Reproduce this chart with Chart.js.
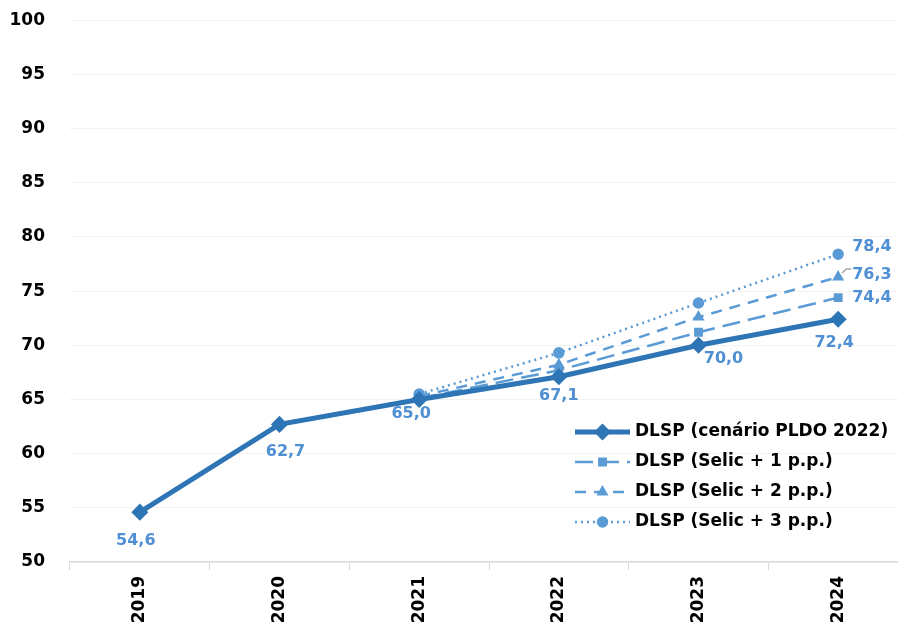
<!DOCTYPE html>
<html>
<head>
<meta charset="utf-8">
<script src="https://cdn.jsdelivr.net/npm/chart.js@4"></script>
<style>
html, body { margin: 0; padding: 0; background: #fff; overflow: hidden; }
#wrap { width: 918px; height: 641px; margin-top: -15px; }
</style>
</head>
<body>
<div id="wrap"><canvas id="chart" width="918" height="641"></canvas></div>
<script>
const years = ['2019', '2020', '2021', '2022', '2023', '2024'];
const dlspBase = [54.6, 62.7, 65.0, 67.1, 70.0, 72.4];
const dlspSelic1 = [null, null, 65.1, 67.7, 71.2, 74.4];
const dlspSelic2 = [null, null, 65.3, 68.2, 72.6, 76.3];
const dlspSelic3 = [null, null, 65.5, 69.3, 73.9, 78.4];
const seriesNames = ['DLSP (cenário PLDO 2022)', 'DLSP (Selic + 1 p.p.)', 'DLSP (Selic + 2 p.p.)', 'DLSP (Selic + 3 p.p.)'];

const dark = '#2e75b6';
const light = '#5b9bd5';
const labelBlue = '#4f8fd3';
const font = '"DejaVu Sans", Verdana, sans-serif';

// base labels sit under the points, nudged a bit per year like the original
const baseOffsets = [[-4, 29], [6, 27], [-8, 14], [0, 19], [25, 14], [-4, 24]];

const labelsPlugin = {
    id: 'pointLabels',
    afterDatasetsDraw(chart) {
        const ctx = chart.ctx;
        ctx.save();
        ctx.font = 'bold 16px ' + font;
        ctx.fillStyle = labelBlue;
        ctx.textBaseline = 'middle';
        const base = chart.getDatasetMeta(0);
        base.data.forEach((pt, i) => {
            const txt = dlspBase[i].toFixed(1).replace('.', ',');
            ctx.textAlign = 'center';
            ctx.fillText(txt, pt.x + baseOffsets[i][0], pt.y + baseOffsets[i][1]);
        });
        [1, 2, 3].forEach(d => {
            const meta = chart.getDatasetMeta(d);
            const last = meta.data.length - 1;
            const pt = meta.data[last];
            const v = chart.data.datasets[d].data[last];
            const dy = d === 3 ? -7 : (d === 2 ? -2 : 0);
            ctx.textAlign = 'left';
            ctx.fillText(v.toFixed(1).replace('.', ','), pt.x + 14, pt.y + dy);
            if (d === 2) {
                ctx.strokeStyle = '#a6a6a6';
                ctx.lineWidth = 1.5;
                ctx.beginPath();
                ctx.moveTo(pt.x + 4, pt.y - 4);
                ctx.lineTo(pt.x + 8, pt.y - 8);
                ctx.lineTo(pt.x + 13, pt.y - 8);
                ctx.stroke();
            }
        });
        ctx.restore();
    }
};

const legendPlugin = {
    id: 'insideLegend',
    afterDraw(chart) {
        const ctx = chart.ctx;
        // canvas is shifted up 15px, so legend rows sit 15px lower in canvas space
        const x0 = 575, x1 = 630, top = 447, gap = 30;
        ctx.save();
        chart.data.datasets.forEach((ds, i) => {
            const y = top + i * gap;
            ctx.strokeStyle = ds.borderColor;
            ctx.lineWidth = ds.borderWidth;
            ctx.setLineDash(ds.borderDash || []);
            ctx.beginPath();
            ctx.moveTo(x0, y);
            ctx.lineTo(x1, y);
            ctx.stroke();
            ctx.setLineDash([]);
            ctx.fillStyle = ds.pointBackgroundColor;
            ctx.strokeStyle = ds.pointBackgroundColor;
            Chart.helpers.drawPoint(ctx, {
                pointStyle: ds.pointStyle,
                radius: ds.pointRadius,
                borderWidth: 1
            }, (x0 + x1) / 2, y);
            ctx.fillStyle = '#000';
            ctx.font = 'bold 17px ' + font;
            ctx.textAlign = 'left';
            ctx.textBaseline = 'middle';
            ctx.fillText(seriesNames[i], 635, y);
        });
        ctx.restore();
    }
};

function makeSet(i, data, color, width, dash, style, radius) {
    return {
        label: seriesNames[i],
        data: data,
        borderColor: color,
        backgroundColor: color,
        pointBackgroundColor: color,
        pointBorderColor: color,
        borderWidth: width,
        borderDash: dash,
        pointStyle: style,
        pointRadius: radius,
        pointHoverRadius: radius,
        tension: 0,
        fill: false
    };
}

new Chart(document.getElementById('chart'), {
    type: 'line',
    data: {
        labels: years,
        datasets: [
            makeSet(0, dlspBase, dark, 5, [], 'rectRot', 5),
            makeSet(1, dlspSelic1, light, 2.5, [18, 8], 'rect', 4.5),
            makeSet(2, dlspSelic2, light, 2.5, [11, 8], 'triangle', 4.5),
            makeSet(3, dlspSelic3, light, 2.5, [2, 4], 'circle', 4.5)
        ]
    },
    options: {
        responsive: false,
        animation: false,
        layout: { padding: { left: 0, top: 0, right: 4, bottom: 0 } },
        plugins: {
            legend: { display: false },
            tooltip: { enabled: false }
        },
        scales: {
            x: {
                offset: true,
                grid: {
                    offset: true,
                    drawOnChartArea: false,
                    tickLength: 8,
                    color: '#d9d9d9'
                },
                border: { color: '#d9d9d9', width: 1.5 },
                ticks: {
                    minRotation: 90,
                    maxRotation: 90,
                    padding: 6,
                    color: '#000',
                    font: { family: font, size: 17, weight: 'bold' }
                },
                afterFit: scale => { scale.height = 64; }
            },
            y: {
                min: 50,
                max: 100,
                ticks: {
                    stepSize: 5,
                    padding: 25,
                    color: '#000',
                    font: { family: font, size: 17, weight: 'bold' }
                },
                grid: { color: '#f2f2f2', drawTicks: false },
                border: { display: false },
                afterFit: scale => { scale.width = 70; }
            }
        }
    },
    plugins: [labelsPlugin, legendPlugin]
});
</script>
</body>
</html>
